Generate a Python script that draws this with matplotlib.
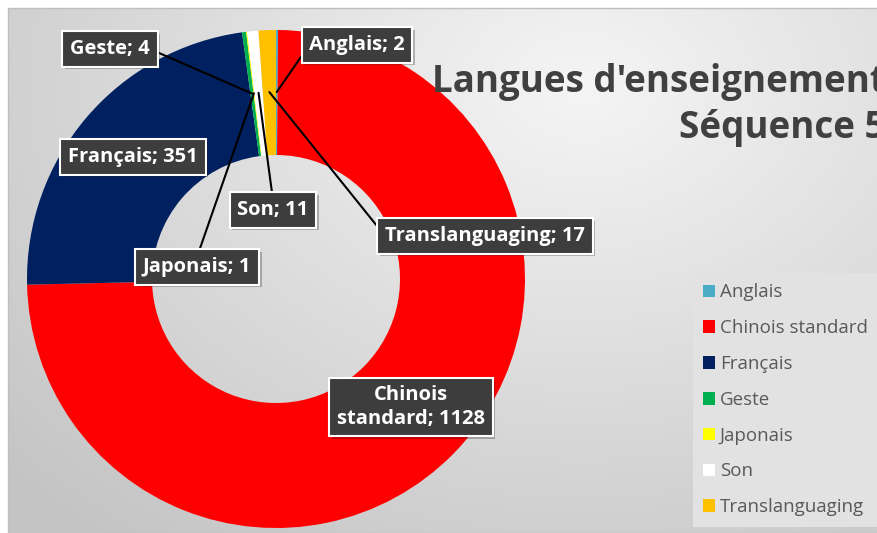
import numpy as np
import matplotlib.pyplot as plt
import matplotlib.patheffects as pe
from matplotlib.patches import Rectangle

plt.rcParams['font.family'] = ['Open Sans', 'DejaVu Sans']

# données
langues = ['Anglais', 'Chinois standard', 'Français', 'Geste', 'Japonais', 'Son', 'Translanguaging']
valeurs = [2, 1128, 351, 4, 1, 11, 17]
couleurs = ['#4BACC6', '#FF0000', '#002060', '#00B050', '#FFFF00', '#FFFFFF', '#FFC000']
etiquettes = ['Anglais; 2', 'Chinois\nstandard; 1128', 'Français; 351', 'Geste; 4',
              'Japonais; 1', 'Son; 11', 'Translanguaging; 17']
titre = "Langues d'enseignement\nSéquence 5"

W, H = 878, 533
# position des étiquettes (pixels, origine en haut à gauche) et point d'attache du trait
pos_etiq = [(357, 45), (411, 407), (133, 157), (110, 49), (197, 267), (273, 210), (485, 236)]
attache = [(0, 0.5), None, (1, 1), (1, 0.5), (0.5, 1), (0.5, 1), (0, 0.5)]

fig = plt.figure(figsize=(W / 100, H / 100), dpi=100)
fig.patch.set_facecolor('white')
ax = fig.add_axes([0, 0, 1, 1])

# fond dégradé
yy, xx = np.mgrid[0:H, 0:W]
d = np.sqrt(((xx - 580) / 700.0) ** 2 + ((yy - 80) / 520.0) ** 2)
g = np.clip(0.96 - 0.17 * d, 0.77, 0.96)
ax.imshow(np.dstack([g, g, g]), extent=(8, W, 0, H - 8), origin='upper', zorder=0)
ax.add_patch(Rectangle((8, 0), W, H - 8, fill=False, edgecolor='#bfbfbf', lw=1, zorder=1))

# anneau
cx, cy, R = 276, H - 279, 249
wedges, _ = ax.pie(valeurs, colors=couleurs, startangle=90, counterclock=False,
                   radius=R, center=(cx, cy),
                   wedgeprops=dict(width=125, linewidth=0))
for w in wedges:
    w.set_zorder(2)

ombre = [pe.withSimplePatchShadow(offset=(2, -2), shadow_rgbFace='black', alpha=0.25)]
boite = dict(boxstyle='square,pad=0.38', fc='#3d3d3d', ec='white', lw=1.5)

total = sum(valeurs)
cum = 0
for i, v in enumerate(valeurs):
    ang = np.deg2rad(90 - 360 * (cum + v / 2) / total)
    cum += v
    tx, ty = pos_etiq[i][0], H - pos_etiq[i][1]
    if attache[i] is None:
        t = ax.text(tx, ty, etiquettes[i], ha='center', va='center', color='white',
                    fontsize=14.5, fontweight='bold', zorder=6, linespacing=1.2, bbox=boite)
    else:
        px, py = cx + 187 * np.cos(ang), cy + 187 * np.sin(ang)
        t = ax.annotate(etiquettes[i], xy=(px, py), xytext=(tx, ty),
                        ha='center', va='center', color='white', fontsize=14.5,
                        fontweight='bold', zorder=6, bbox=boite,
                        arrowprops=dict(arrowstyle='-', color='black', lw=1.5,
                                        shrinkA=0, shrinkB=0, relpos=attache[i]))
    t.get_bbox_patch().set_path_effects(ombre)

# titre (coupé à droite comme dans l'original)
ax.text(886, H - 105, titre, ha='right', va='center', fontsize=26.5, fontweight='bold',
        color='#404040', linespacing=1.3, zorder=5)

leg = ax.legend(wedges, langues, loc='lower right', bbox_to_anchor=(1.0, 0.012),
                bbox_transform=fig.transFigure, fontsize=13.5, frameon=True,
                facecolor='#e2e2e2', edgecolor='none', framealpha=1, fancybox=False,
                handlelength=0.65, handleheight=0.65, handletextpad=0.25, labelspacing=0.95,
                borderpad=0.55, borderaxespad=0)
for t in leg.get_texts():
    t.set_color('#595959')
for h in leg.legend_handles:
    h.set_edgecolor('none')

ax.set_xlim(0, W)
ax.set_ylim(0, H)
ax.set_aspect('equal')
ax.axis('off')

fig.savefig('out.png', dpi=100)
